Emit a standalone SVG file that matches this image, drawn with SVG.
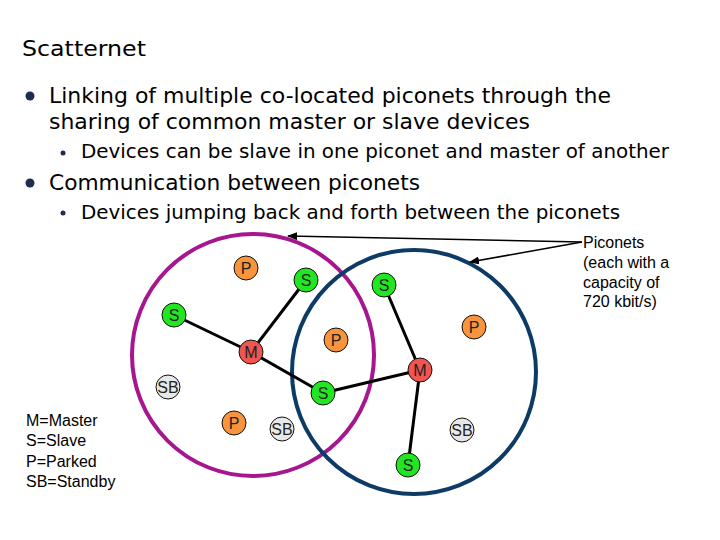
<svg xmlns="http://www.w3.org/2000/svg" width="720" height="540" viewBox="0 0 720 540">
<style>
.t{font-family:"DejaVu Sans",Verdana,sans-serif;fill:#000}
.h{font-size:22px}
.b1{font-size:21px}
.b2{font-size:19px}
.lab{font-family:"Liberation Sans",Arial,sans-serif;font-size:16px;fill:#000}
.nl{font-family:"Liberation Sans",Arial,sans-serif;font-size:16px;fill:#222;text-anchor:middle}
.n{stroke:#111;stroke-width:1}
.P{fill:#f7943c}.S{fill:#22e622}.M{fill:#f05550}.SB{fill:#e8e8e8}
.e{stroke:#000;stroke-width:3;fill:none}
.pt{stroke:#000;stroke-width:1.6;fill:none}
</style>
<defs>
<marker id="ah" markerWidth="10" markerHeight="8" refX="9" refY="4" orient="auto" markerUnits="userSpaceOnUse">
<path d="M0,0 L10,4 L0,8 z" fill="#000"/>
</marker>
</defs>
<rect width="720" height="540" fill="#fff"/>
<g id="text">
<text class="t h" x="22" y="56" textLength="124" lengthAdjust="spacingAndGlyphs">Scatternet</text>
<circle cx="30" cy="96" r="4.5" fill="#1f2d4f"/>
<text class="t b1" x="49" y="103" textLength="562" lengthAdjust="spacingAndGlyphs">Linking of multiple co-located piconets through the</text>
<text class="t b1" x="49" y="129" textLength="481" lengthAdjust="spacingAndGlyphs">sharing of common master or slave devices</text>
<circle cx="63" cy="153" r="2.5" fill="#1f2d4f"/>
<text class="t b2" x="81" y="158" textLength="588" lengthAdjust="spacingAndGlyphs">Devices can be slave in one piconet and master of another</text>
<circle cx="30" cy="183" r="4.5" fill="#1f2d4f"/>
<text class="t b1" x="49" y="190" textLength="371" lengthAdjust="spacingAndGlyphs">Communication between piconets</text>
<circle cx="63" cy="213" r="2.5" fill="#1f2d4f"/>
<text class="t b2" x="81" y="219" textLength="539" lengthAdjust="spacingAndGlyphs">Devices jumping back and forth between the piconets</text>
</g>
<g id="legend">
<text class="lab" x="26" y="426">M=Master</text>
<text class="lab" x="26" y="446">S=Slave</text>
<text class="lab" x="26" y="467">P=Parked</text>
<text class="lab" x="26" y="487">SB=Standby</text>
</g>
<g id="piconet-a"><circle cx="253" cy="355" r="121" fill="none" stroke="#a6168e" stroke-width="4"/></g>
<g id="piconet-b"><circle cx="414" cy="372" r="122" fill="none" stroke="#0d3b66" stroke-width="4"/></g>
<g id="connectors">
<line class="e" x1="174" y1="315" x2="251" y2="352"/>
<line class="e" x1="306" y1="280" x2="251" y2="352"/>
<line class="e" x1="251" y1="352" x2="323" y2="393"/>
<line class="e" x1="323" y1="393" x2="420" y2="370"/>
<line class="e" x1="384" y1="285" x2="420" y2="370"/>
<line class="e" x1="420" y1="370" x2="408" y2="465"/>
<line class="pt" x1="582" y1="242" x2="288" y2="236" marker-end="url(#ah)"/>
<line class="pt" x1="582" y1="242" x2="470" y2="262" marker-end="url(#ah)"/>
</g>
<g id="n1"><circle class="n P" cx="246" cy="268" r="12"/><text class="nl" x="246" y="274">P</text></g>
<g id="n2"><circle class="n S" cx="306" cy="280" r="12"/><text class="nl" x="306" y="286">S</text></g>
<g id="n3"><circle class="n S" cx="384" cy="285" r="12"/><text class="nl" x="384" y="291">S</text></g>
<g id="n4"><circle class="n S" cx="174" cy="315" r="12"/><text class="nl" x="174" y="321">S</text></g>
<g id="n5"><circle class="n M" cx="251" cy="352" r="12"/><text class="nl" x="251" y="358">M</text></g>
<g id="n6"><circle class="n P" cx="336" cy="340" r="12"/><text class="nl" x="336" y="346">P</text></g>
<g id="n7"><circle class="n P" cx="474" cy="327" r="12"/><text class="nl" x="474" y="333">P</text></g>
<g id="n8"><circle class="n M" cx="420" cy="370" r="12"/><text class="nl" x="420" y="376">M</text></g>
<g id="n9"><circle class="n SB" cx="168" cy="387" r="12"/><text class="nl" x="168" y="393">SB</text></g>
<g id="n10"><circle class="n S" cx="323" cy="393" r="12"/><text class="nl" x="323" y="399">S</text></g>
<g id="n11"><circle class="n P" cx="234" cy="423" r="12"/><text class="nl" x="234" y="429">P</text></g>
<g id="n12"><circle class="n SB" cx="282" cy="429" r="12"/><text class="nl" x="282" y="435">SB</text></g>
<g id="n13"><circle class="n SB" cx="462" cy="430" r="12"/><text class="nl" x="462" y="436">SB</text></g>
<g id="n14"><circle class="n S" cx="408" cy="465" r="12"/><text class="nl" x="408" y="471">S</text></g>
<g id="piconets-label">
<text class="lab" x="583" y="248">Piconets</text>
<text class="lab" x="583" y="268">(each with a</text>
<text class="lab" x="583" y="288">capacity of</text>
<text class="lab" x="583" y="307">720 kbit/s)</text>
</g>
</svg>
